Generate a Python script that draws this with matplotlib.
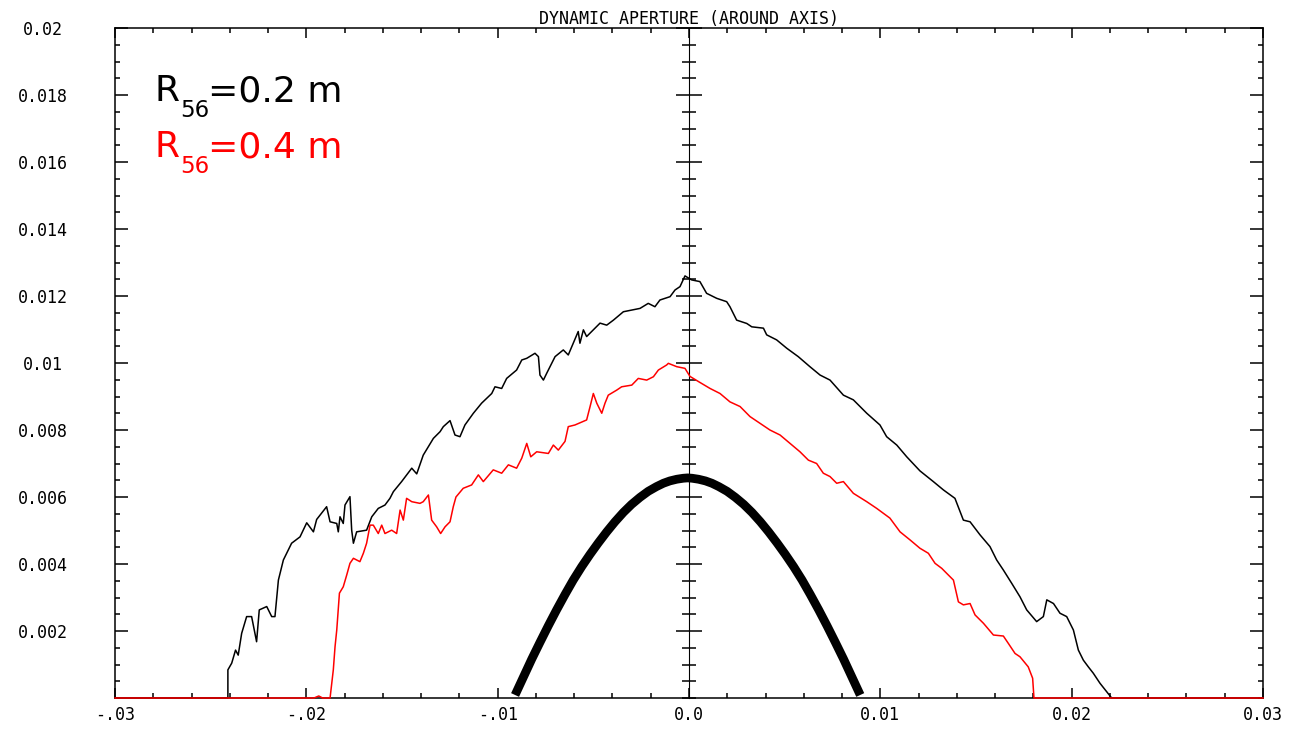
import matplotlib
matplotlib.use("Agg")
import matplotlib.pyplot as plt
from matplotlib.ticker import MultipleLocator, FixedLocator

# R56 = 0.2 m (black)
black_x = [-0.0300, -0.0241, -0.0241, -0.0239, -0.0237, -0.02356, -0.02338, -0.02312, -0.02286, -0.0226,
           -0.02246, -0.02207, -0.02181, -0.02164, -0.02146, -0.0212, -0.02077, -0.02033, -0.01998, -0.01963,
           -0.01946, -0.01894, -0.01876, -0.01841, -0.01833, -0.01824, -0.01807, -0.01798, -0.01772, -0.01763,
           -0.01754, -0.01737, -0.01685, -0.01658, -0.01624, -0.01589, -0.01563, -0.01545, -0.01502, -0.01449,
           -0.01423, -0.01389, -0.01336, -0.01301, -0.01284, -0.01249, -0.01223, -0.01197, -0.01171, -0.01127,
           -0.01084, -0.01031, -0.01014, -0.00979, -0.00953, -0.00901, -0.00874, -0.00848, -0.00805, -0.00787,
           -0.00779, -0.00761, -0.00744, -0.0070, -0.00657, -0.00631, -0.00605, -0.00579, -0.0057, -0.00552,
           -0.00535, -0.00465, -0.0043, -0.00395, -0.00343, -0.00256, -0.00213, -0.00178, -0.00152, -0.00099,
           -0.00073, -0.00047, -0.00021, 0.00014, 0.00057, 0.00092, 0.00145, 0.00197, 0.00214, 0.00249,
           0.00302, 0.00328, 0.00389, 0.00406, 0.00458, 0.00511, 0.00571, 0.00632, 0.00685, 0.00737,
           0.00807, 0.00859, 0.00929, 0.00998, 0.01033, 0.01086, 0.01138, 0.01207, 0.01277, 0.0133,
           0.0139, 0.01434, 0.01469, 0.01521, 0.01573, 0.01608, 0.01643, 0.01687, 0.0173, 0.01765,
           0.01817, 0.01852, 0.0187, 0.01905, 0.01939, 0.01974, 0.02009, 0.02035, 0.02061, 0.02087,
           0.02113, 0.02148, 0.02183, 0.02209, 0.0300]
black_y = [0, 0, 0.00084, 0.00104, 0.00143, 0.00128, 0.00193, 0.00243, 0.00243, 0.00168,
           0.00263, 0.00273, 0.00243, 0.00243, 0.00352, 0.00412, 0.00462, 0.00481, 0.00523, 0.00496,
           0.00533, 0.00571, 0.00526, 0.00521, 0.00496, 0.00541, 0.00521, 0.00576, 0.00601, 0.00501,
           0.00462, 0.00496, 0.00501, 0.00541, 0.00566, 0.00576, 0.00596, 0.00616, 0.00646, 0.00686,
           0.00669, 0.00725, 0.00775, 0.00795, 0.0081, 0.00828, 0.00785, 0.0078, 0.00815, 0.0085,
           0.0088, 0.00909, 0.00929, 0.00924, 0.00954, 0.00979, 0.01009, 0.01014, 0.01029, 0.01019,
           0.00964, 0.00949, 0.00969, 0.01019, 0.01039, 0.01024, 0.01059, 0.01094, 0.01059, 0.01099,
           0.01079, 0.01119, 0.01113, 0.01128, 0.01153, 0.01163, 0.01178, 0.01168, 0.01188, 0.01198,
           0.01218, 0.01228, 0.0126, 0.01248, 0.01243, 0.01208, 0.01193, 0.01183, 0.01168, 0.01128,
           0.01118, 0.01108, 0.01104, 0.01084, 0.01069, 0.01044, 0.01019, 0.00989, 0.00964, 0.00949,
           0.00904, 0.0089, 0.0085, 0.00815, 0.0078, 0.00755, 0.0072, 0.00678, 0.00646, 0.00621,
           0.00596, 0.00531, 0.00526, 0.00487, 0.00452, 0.00412, 0.00382, 0.00342, 0.00302, 0.00263,
           0.00228, 0.00243, 0.00293, 0.00282, 0.00253, 0.00243, 0.00203, 0.00143, 0.00113, 0.00093,
           0.00074, 0.00044, 0.00019, 0, 0]

# R56 = 0.4 m (red)
red_x = [-0.0300, -0.0196, -0.01935, -0.01915, -0.01876, -0.01859, -0.0185, -0.01841, -0.01827, -0.01807,
         -0.01789, -0.01772, -0.01754, -0.01737, -0.0172, -0.01702, -0.01685, -0.01667, -0.0165, -0.01624,
         -0.01606, -0.01589, -0.01554, -0.01528, -0.0151, -0.01493, -0.01476, -0.01449, -0.01406, -0.01389,
         -0.01362, -0.01345, -0.01319, -0.01298, -0.01275, -0.01249, -0.01232, -0.01218, -0.0118, -0.01136,
         -0.01101, -0.01075, -0.01023, -0.00979, -0.00944, -0.00901, -0.00874, -0.00848, -0.00827, -0.00796,
         -0.00735, -0.00709, -0.00683, -0.00648, -0.00631, -0.00596, -0.00535, -0.00517, -0.005, -0.00482,
         -0.00456, -0.00439, -0.00422, -0.00378, -0.00352, -0.00299, -0.00265, -0.00221, -0.00186, -0.0016,
         -0.00117, -0.00108, -0.00064, -0.00021, 0.00005, 0.00057, 0.0011, 0.00162, 0.00214, 0.00267,
         0.00319, 0.00371, 0.00423, 0.00476, 0.00528, 0.0058, 0.00624, 0.00667, 0.00702, 0.00737,
         0.00772, 0.00807, 0.00859, 0.00929, 0.00981, 0.0105, 0.01103, 0.01155, 0.01207, 0.01251,
         0.01286, 0.01321, 0.01347, 0.01382, 0.01408, 0.01434, 0.01469, 0.01495, 0.01539, 0.01591,
         0.01643, 0.01669, 0.01704, 0.0173, 0.01773, 0.01796, 0.01803, 0.0300]
red_y = [0, 0, 0.00006, 0, 0, 0.00084, 0.00153, 0.00203, 0.00313, 0.00332,
         0.00367, 0.00402, 0.00417, 0.00412, 0.00407, 0.00432, 0.00462, 0.00516, 0.00516, 0.00491,
         0.00516, 0.00491, 0.00501, 0.00491, 0.00561, 0.00531, 0.00596, 0.00586, 0.00581, 0.00586,
         0.00606, 0.00531, 0.00511, 0.00491, 0.00511, 0.00526, 0.00571, 0.0060, 0.00626, 0.00636,
         0.00666, 0.00646, 0.00681, 0.00671, 0.00696, 0.00686, 0.00716, 0.0076, 0.0072, 0.00735,
         0.0073, 0.00755, 0.0074, 0.00766, 0.0081, 0.00815, 0.0083, 0.0087, 0.00909, 0.0088,
         0.0085, 0.0088, 0.00904, 0.00919, 0.00929, 0.00934, 0.00954, 0.00949, 0.00959, 0.00979,
         0.00994, 0.00999, 0.00989, 0.00984, 0.0096, 0.00942, 0.00924, 0.00909, 0.00884, 0.0087,
         0.0084, 0.0082, 0.008, 0.00785, 0.0076, 0.00735, 0.0071, 0.0070, 0.00671, 0.00661,
         0.00641, 0.00646, 0.00611, 0.00586, 0.00566, 0.00537, 0.00496, 0.00472, 0.00447, 0.00432,
         0.00402, 0.00387, 0.00372, 0.00352, 0.00287, 0.00278, 0.00282, 0.00248, 0.00223, 0.00188,
         0.00185, 0.00163, 0.00133, 0.00123, 0.00093, 0.00059, 0, 0]

# thick reference curve
arc_x = [-0.00909, -0.00883, -0.00848, -0.00822, -0.00779, -0.00735, -0.00692, -0.00648, -0.00605, -0.00561,
         -0.00517, -0.00474, -0.0043, -0.00387, -0.00343, -0.003, -0.00256, -0.00213, -0.0017, -0.00134,
         -0.001, -0.00064, -0.0003, -0.00007, 0.00016, 0.0005, 0.00086, 0.0012, 0.00156, 0.00199,
         0.00242, 0.00286, 0.00329, 0.00373, 0.00416, 0.0046, 0.00503, 0.00547, 0.00591, 0.00634,
         0.00678, 0.00721, 0.00765, 0.00808, 0.00834, 0.00869, 0.00895]
arc_y = [0.00009, 0.00041, 0.00084, 0.00116, 0.00166, 0.00216, 0.00263, 0.00309, 0.00352, 0.00392,
         0.00429, 0.00463, 0.00496, 0.00526, 0.00554, 0.00578, 0.00599, 0.00617, 0.00631, 0.00641,
         0.00648, 0.00653, 0.00656, 0.00657, 0.00656, 0.00653, 0.00648, 0.00641, 0.00631, 0.00617,
         0.00599, 0.00578, 0.00554, 0.00526, 0.00496, 0.00463, 0.00429, 0.00392, 0.00352, 0.00309,
         0.00263, 0.00216, 0.00166, 0.00116, 0.00084, 0.00041, 0.00009]

xtick_vals = [-0.03, -0.02, -0.01, 0.0, 0.01, 0.02, 0.03]
xtick_text = ["-.03", "-.02", "-.01", "0.0", "0.01", "0.02", "0.03"]
ytick_vals = [0.002, 0.004, 0.006, 0.008, 0.01, 0.012, 0.014, 0.016, 0.018, 0.02]
ytick_text = ["0.002", "0.004", "0.006", "0.008", "0.01", "0.012", "0.014", "0.016", "0.018", "0.02"]

mono = "DejaVu Sans Mono"
W, H = 1294, 730

fig = plt.figure(figsize=(W / 100, H / 100), dpi=100)
ax = fig.add_axes([115 / W, 32 / H, 1148 / W, 670 / H])

ax.plot(black_x, black_y, color="black", lw=1.1, clip_on=False, zorder=3)
ax.plot(red_x, red_y, color="#ff0000", lw=1.1, clip_on=False, zorder=4)
ax.plot(arc_x, arc_y, color="black", lw=6.3, solid_capstyle="butt", solid_joinstyle="round", zorder=5)

ax.set_xlim(-0.03, 0.03)
ax.set_ylim(0, 0.02)

ax.xaxis.set_major_locator(FixedLocator(xtick_vals))
ax.xaxis.set_minor_locator(MultipleLocator(0.002))
ax.yaxis.set_major_locator(FixedLocator(ytick_vals))
ax.yaxis.set_minor_locator(MultipleLocator(0.0005))
ax.set_xticklabels(xtick_text, fontfamily=mono, fontsize=12)
ax.set_yticklabels(ytick_text, fontfamily=mono, fontsize=12)
for lab in ax.get_yticklabels():
    lab.set_horizontalalignment("center")

ax.tick_params(which="both", direction="in", top=True, right=True, width=1.1, color="black")
ax.tick_params(axis="x", which="major", length=7.5, pad=6)
ax.tick_params(axis="x", which="minor", length=3.6)
ax.tick_params(axis="y", which="major", length=9.3, pad=52)
ax.tick_params(axis="y", which="minor", length=3.6)
for sp in ax.spines.values():
    sp.set_linewidth(1.1)

# middle axis at x = 0 with crossing ticks
mid = ax.secondary_yaxis(0.5)
mid.yaxis.set_major_locator(FixedLocator(ytick_vals))
mid.yaxis.set_minor_locator(MultipleLocator(0.0005))
mid.tick_params(which="both", direction="inout", width=1.1, labelleft=False, labelright=False)
mid.tick_params(which="major", length=18.7)
mid.tick_params(which="minor", length=9.4)
mid.spines["left"].set_linewidth(1.1)

ax.set_title("DYNAMIC APERTURE (AROUND AXIS)", fontfamily=mono, fontsize=12, pad=3)

# labels: R with a deep subscript 56, placed in pixels from the top-left
def label(x, base, value, color):
    fig.text(x / W, 1 - base / H, "R", fontsize=26, fontfamily="DejaVu Sans",
             color=color, va="baseline")
    fig.text((x + 25) / W, 1 - (base + 16) / H, "56", fontsize=16.5, fontfamily="DejaVu Sans",
             color=color, va="baseline")
    fig.text((x + 53) / W, 1 - base / H, "=" + value + " m", fontsize=26, fontfamily="DejaVu Sans",
             color=color, va="baseline")

label(155, 101, "0.2", "black")
label(155, 157, "0.4", "#ff0000")

fig.savefig("out.png", dpi=100)
